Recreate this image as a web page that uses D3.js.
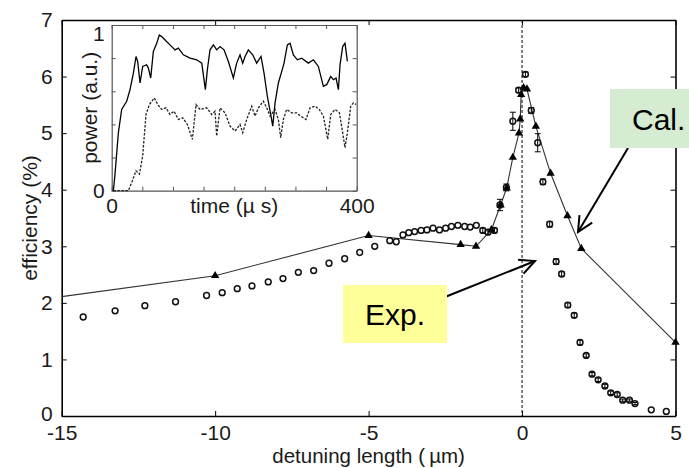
<!DOCTYPE html>
<html><head><meta charset="utf-8">
<script src="https://cdn.jsdelivr.net/npm/d3@7"></script>
<style>
body{margin:0;background:#fff;}
svg{display:block;font-family:"Liberation Sans",Arial,Helvetica,sans-serif;}
</style></head>
<body>
<svg id="chart" width="689" height="468"></svg>
<script>
// ---- Main plot data ----
const xTicks = [-15, -10, -5, 0, 5];
const yTicks = [0, 1, 2, 3, 4, 5, 6, 7];
const calX = [-15, -10, -5, -2, -1.5, -1.0, -0.7, -0.5, -0.3, -0.1, -0.06, -0.03, 0.05, 0.16, 0.45, 0.93, 1.48, 1.93, 5];
const calY = [2.11, 2.48, 3.19, 3.03, 3.0, 3.29, 3.73, 4.03, 4.57, 5.0, 5.25, 5.68, 5.8, 5.78, 5.12, 4.29, 3.54, 2.96, 1.3];
const expX = [-14.3,-13.26,-12.29,-11.29,-10.28,-9.77,-9.28,-8.8,-8.27,-7.79,-7.29,-6.79,-6.29,-5.78,-5.29,-4.8,-4.31,-4.1,-3.88,-3.69,-3.5,-3.29,-3.1,-2.9,-2.69,-2.49,-2.3,-2.09,-1.87,-1.69,-1.49,-1.28,-1.11,-0.9,-0.72,-0.51,-0.3,-0.11,0.11,0.3,0.51,0.68,0.9,1.11,1.29,1.49,1.7,1.89,2.09,2.28,2.48,2.7,2.89,3.1,3.28,3.5,3.68,4.21,4.7];
const expY = [1.75,1.86,1.95,2.02,2.13,2.18,2.25,2.3,2.37,2.43,2.54,2.57,2.7,2.78,2.89,3.0,3.1,3.08,3.2,3.24,3.26,3.28,3.29,3.32,3.29,3.32,3.35,3.37,3.35,3.34,3.37,3.28,3.25,3.28,3.73,4.04,5.21,5.76,6.04,5.4,4.83,4.14,3.39,2.73,2.51,1.96,1.78,1.3,1.07,0.74,0.64,0.53,0.41,0.38,0.28,0.28,0.22,0.11,0.08];
const expErr = [0,0,0,0,0,0,0,0,0,0,0,0,0,0,0,0,0,0,0,0,0,0,0,0,0,0,0,0,0,0,0,0.04,0.04,0.04,0.1,0.06,0.16,0.04,0.04,0.05,0.16,0.05,0.05,0.05,0.04,0.04,0.04,0.04,0.03,0.03,0.03,0.03,0.03,0.03,0.02,0.02,0.02,0,0];

// ---- Inset data (power vs time) ----
const insetXTicks = [0, 400];
const insetYTicks = [0, 1];
const solidT = [2.7,5.4,10.9,16.3,24.5,29.9,35.4,39.7,42.4,46.3,50.6,57.1,59.9,63.7,68,73.5,77.8,81.6,87.1,95.2,103.4,108.8,117,127.9,138.8,147,150.7,152.9,156.2,160.5,166,171.4,176.9,183.4,190.5,198.6,204,209.5,213.9,217.7,223.1,230.2,236.7,243.8,248.7,254.1,259.6,262.9,266.7,272.1,277.6,281.4,286.8,291.2,296.6,303.1,310.2,321.1,329.3,337.4,345.6,351,357.6,362,366.3,370.1,372.8,377.1,380.9,384.8];
const solidP = [0,0.1,0.35,0.49,0.54,0.61,0.71,0.81,0.78,0.65,0.75,0.76,0.74,0.68,0.84,0.89,0.94,0.93,0.91,0.88,0.85,0.86,0.82,0.8,0.79,0.77,0.67,0.61,0.73,0.85,0.88,0.85,0.87,0.85,0.78,0.68,0.77,0.82,0.77,0.81,0.85,0.82,0.77,0.81,0.71,0.57,0.46,0.39,0.53,0.65,0.72,0.77,0.88,0.89,0.82,0.79,0.8,0.77,0.79,0.75,0.63,0.64,0.69,0.67,0.68,0.61,0.76,0.87,0.89,0.78];
const dashT = [2.7,27.2,32.7,39.7,45.2,50.6,56,61.5,69.7,75.1,81.6,88.7,95.2,101.8,108.8,115.9,123.5,131.7,137.7,144.2,155.1,163.3,168.7,171.4,176.9,185,193.2,201.4,209.5,213.9,220.4,228.6,234,239.5,247.6,253.1,258.5,266.7,272.1,275.9,280.3,285.7,293.9,302,308.6,317.3,323.8,332,339,345.6,352.7,357.6,364.7,371.8,377.1,380.9,384.8,390.2,394.6,399];
const dashP = [0,0,0.05,0.12,0.1,0.21,0.46,0.52,0.56,0.52,0.49,0.5,0.46,0.48,0.43,0.44,0.4,0.31,0.52,0.49,0.5,0.46,0.48,0.33,0.5,0.47,0.39,0.36,0.4,0.35,0.43,0.51,0.45,0.5,0.54,0.5,0.45,0.49,0.43,0.32,0.43,0.49,0.47,0.47,0.45,0.43,0.5,0.51,0.49,0.45,0.31,0.46,0.49,0.47,0.35,0.26,0.35,0.51,0.53,0.52];

const svg = d3.select("#chart");
const TXT = "#1a1a1a";
const fmt = d => String(d);

// scales
const x = d3.scaleLinear().domain([-15, 5]).range([61.7, 675.5]);
const y = d3.scaleLinear().domain([0, 7]).range([416, 20]);

// axes (inward ticks on all sides)
const fs = 21;
const gB = svg.append("g").attr("transform", `translate(0,${y(0)})`)
  .call(d3.axisBottom(x).tickValues(xTicks).tickSizeInner(-5).tickSizeOuter(0).tickPadding(9).tickFormat(fmt));
const gT = svg.append("g").attr("transform", `translate(0,${y(7)})`)
  .call(d3.axisTop(x).tickValues(xTicks).tickSizeInner(-5).tickSizeOuter(0).tickFormat(""));
const gL = svg.append("g").attr("transform", `translate(${x(-15)},0)`)
  .call(d3.axisLeft(y).tickValues(yTicks).tickSizeInner(-5).tickSizeOuter(0).tickPadding(9).tickFormat(fmt));
const gR = svg.append("g").attr("transform", `translate(${x(5)},0)`)
  .call(d3.axisRight(y).tickValues(yTicks).tickSizeInner(-5).tickSizeOuter(0).tickFormat(""));
[gB, gT, gL, gR].forEach(g => {
  g.select(".domain").attr("stroke", "#000").attr("stroke-width", 1.6);
  g.selectAll(".tick line").attr("stroke", "#000").attr("stroke-width", 1);
  g.selectAll("text").attr("font-size", fs).attr("fill", TXT).attr("font-family", "Liberation Sans, Arial, sans-serif");
});
gB.selectAll("text").attr("dy", "0.71em");
gL.selectAll(".tick text").filter(d => d === 0).attr("dy", "0.22em");

// axis titles
svg.append("text").attr("x", (x(-15) + x(5)) / 2).attr("y", 463).attr("text-anchor", "middle")
  .attr("font-size", 20.5).attr("fill", TXT).text("detuning length (\u2009\u00b5m)");
svg.append("text").attr("transform", `translate(37,${(y(0) + y(7)) / 2}) rotate(-90)`).attr("text-anchor", "middle")
  .attr("font-size", 21).attr("fill", TXT).text("efficiency (%)");

// dashed vertical at 0
svg.append("line").attr("x1", x(0)).attr("x2", x(0)).attr("y1", y(7)).attr("y2", y(0))
  .attr("stroke", "#000").attr("stroke-width", 1).attr("stroke-dasharray", "3,2");

// Cal line + triangles
const calData = calX.map((v, i) => ({x: v, y: calY[i]}));
svg.append("path").datum(calData)
  .attr("d", d3.line().x(d => x(d.x)).y(d => y(d.y)))
  .attr("fill", "none").attr("stroke", "#333").attr("stroke-width", 1.1);
svg.append("g").selectAll("path").data(calData.filter(d => d.x > -15)).join("path")
  .attr("transform", d => `translate(${x(d.x)},${y(d.y)})`)
  .attr("d", d3.symbol(d3.symbolTriangle, 30))
  .attr("fill", "#000");

// Exp circles + error bars
const expData = expX.map((v, i) => ({x: v, y: expY[i], e: expErr[i]}));
const eb = svg.append("g").attr("stroke", "#000").attr("stroke-width", 1);
expData.filter(d => d.e > 0).forEach(d => {
  const cx = x(d.x), y1 = y(d.y + d.e), y2 = y(d.y - d.e);
  eb.append("line").attr("x1", cx).attr("x2", cx).attr("y1", y1).attr("y2", y2);
  eb.append("line").attr("x1", cx - 3).attr("x2", cx + 3).attr("y1", y1).attr("y2", y1);
  eb.append("line").attr("x1", cx - 3).attr("x2", cx + 3).attr("y1", y2).attr("y2", y2);
});
svg.append("g").selectAll("circle").data(expData).join("circle")
  .attr("cx", d => x(d.x)).attr("cy", d => y(d.y)).attr("r", 2.9)
  .attr("fill", "none").attr("stroke", "#111").attr("stroke-width", 1.5);

// ---- Inset ----
const xi = d3.scaleLinear().domain([0, 400]).range([111.7, 356.7]);
const yi = d3.scaleLinear().domain([0, 1]).range([190.7, 25]);
svg.append("rect").attr("x", xi(0)).attr("y", yi(1)).attr("width", xi(400) - xi(0)).attr("height", yi(0) - yi(1))
  .attr("fill", "#fff");
const minorT = d3.range(0, 401, 50);
const minorP = d3.range(0, 1.01, 0.2);
const iB = svg.append("g").attr("transform", `translate(0,${yi(0)})`)
  .call(d3.axisBottom(xi).tickValues(minorT).tickSizeInner(-4).tickSizeOuter(0).tickPadding(7)
    .tickFormat(d => insetXTicks.includes(d) ? String(d) : ""));
const iT = svg.append("g").attr("transform", `translate(0,${yi(1)})`)
  .call(d3.axisTop(xi).tickValues(minorT).tickSizeInner(-4).tickSizeOuter(0).tickFormat(""));
const iL = svg.append("g").attr("transform", `translate(${xi(0)},0)`)
  .call(d3.axisLeft(yi).tickValues(minorP).tickSizeInner(-4).tickSizeOuter(0).tickPadding(7)
    .tickFormat(d => insetYTicks.some(t => Math.abs(t - d) < 1e-6) ? String(Math.round(d)) : ""));
const iR = svg.append("g").attr("transform", `translate(${xi(400)},0)`)
  .call(d3.axisRight(yi).tickValues(minorP).tickSizeInner(-4).tickSizeOuter(0).tickFormat(""));
[iB, iT, iL, iR].forEach(g => {
  g.select(".domain").attr("stroke", "#555").attr("stroke-width", 1.2);
  g.selectAll(".tick line").attr("stroke", "#555").attr("stroke-width", 1);
  g.selectAll("text").attr("font-size", fs).attr("fill", TXT).attr("font-family", "Liberation Sans, Arial, sans-serif");
});
iL.selectAll(".tick text").filter(d => d > 0.9).attr("dy", "0.75em");

const solidData = solidT.map((t, i) => ({t, p: solidP[i]}));
const dashData = dashT.map((t, i) => ({t, p: dashP[i]}));
const il = d3.line().x(d => xi(d.t)).y(d => yi(d.p));
svg.append("path").datum(solidData).attr("d", il).attr("fill", "none").attr("stroke", "#000").attr("stroke-width", 1.3);
svg.append("path").datum(dashData).attr("d", il).attr("fill", "none").attr("stroke", "#222").attr("stroke-width", 1.3).attr("stroke-dasharray", "2.5,1.5");

svg.append("text").attr("x", (xi(0) + xi(400)) / 2).attr("y", 213).attr("text-anchor", "middle")
  .attr("font-size", 21).attr("fill", TXT).text("time (\u00b5 s)");
svg.append("text").attr("transform", `translate(97,${(yi(0) + yi(1)) / 2}) rotate(-90)`).attr("text-anchor", "middle")
  .attr("font-size", 21).attr("fill", TXT).text("power (a.u.)");

// ---- Annotations ----
function arrow(x1, y1, x2, y2) {
  const g = svg.append("g").attr("stroke", "#000").attr("stroke-width", 2).attr("fill", "none");
  g.append("line").attr("x1", x1).attr("y1", y1).attr("x2", x2).attr("y2", y2);
  const a = Math.atan2(y2 - y1, x2 - x1), L = 17, w = 0.45;
  g.append("path").attr("d",
    `M${x2 - L * Math.cos(a - w)},${y2 - L * Math.sin(a - w)}L${x2},${y2}L${x2 - L * Math.cos(a + w)},${y2 - L * Math.sin(a + w)}`);
}
arrow(628, 148, 578, 232);
arrow(445, 297, 535, 261);

svg.append("rect").attr("x", 610).attr("y", 89).attr("width", 79).attr("height", 59).attr("fill", "#d5ebd2");
svg.append("text").attr("x", 632).attr("y", 129.5).attr("font-size", 30).attr("fill", "#000").text("Cal.");
svg.append("rect").attr("x", 343).attr("y", 285).attr("width", 104).attr("height", 58).attr("fill", "#ffff99");
svg.append("text").attr("x", 365).attr("y", 325).attr("font-size", 30).attr("fill", "#000").text("Exp.");
</script>
</body></html>
